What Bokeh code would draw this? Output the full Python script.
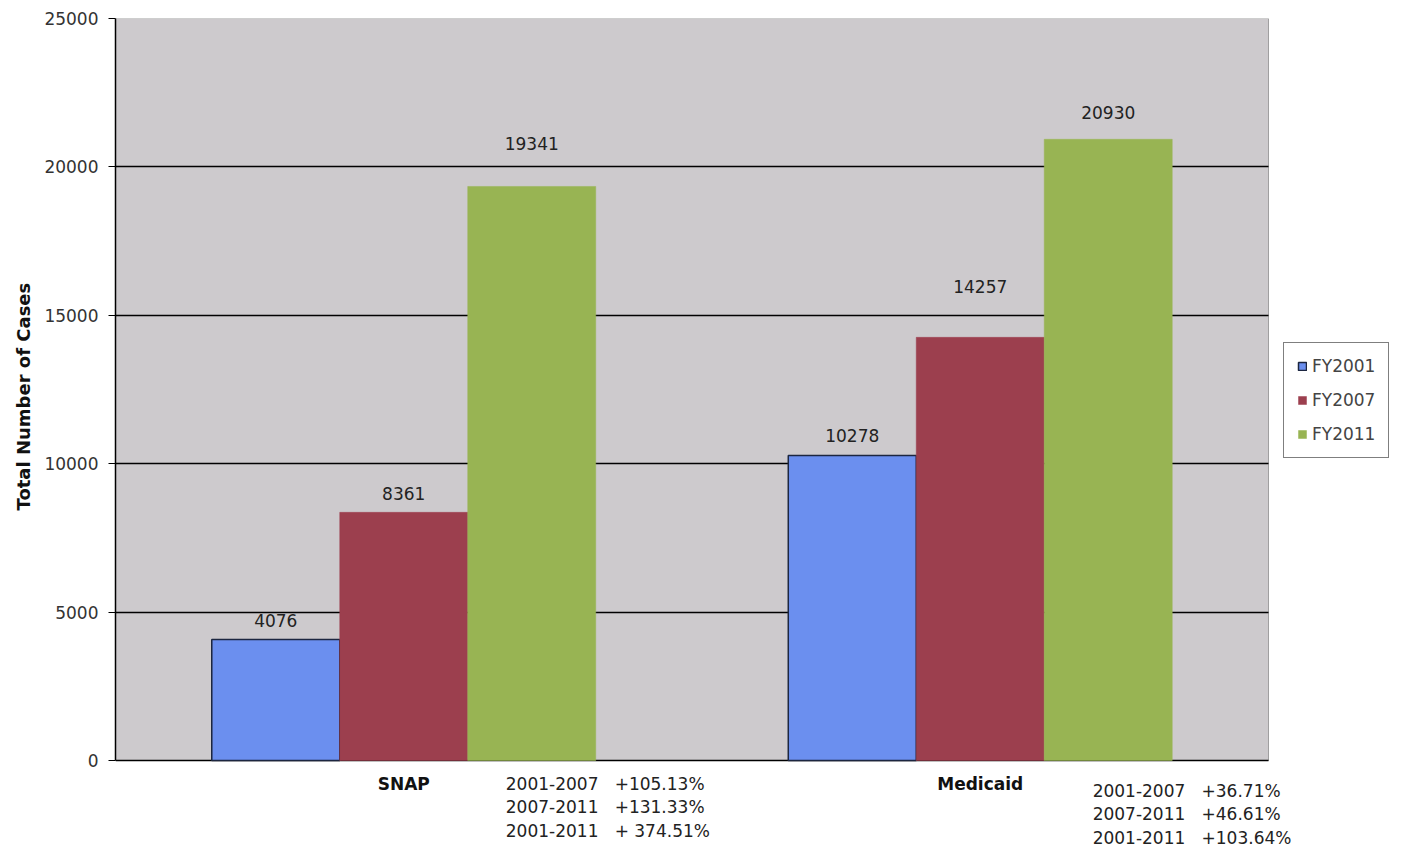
from bokeh.plotting import figure
from bokeh.models import (ColumnDataSource, Range1d, FixedTicker, Legend, LegendItem,
                          LabelSet, BoxAnnotation, Title)
from bokeh.core.properties import value
from bokeh.embed import file_html
from bokeh.resources import INLINE

# ---- data ----
categories = ["SNAP", "Medicaid"]
series_names = ["FY2001", "FY2007", "FY2011"]
fy2001 = [4076, 10278]
fy2007 = [8361, 14257]
fy2011 = [19341, 20930]
y_ticks = [0, 5000, 10000, 15000, 20000, 25000]
snap_notes = ["2001-2007\u00a0\u00a0\u00a0+105.13%", "2007-2011\u00a0\u00a0\u00a0+131.33%",
              "2001-2011\u00a0\u00a0\u00a0+ 374.51%"]
medicaid_notes = ["2001-2007\u00a0\u00a0\u00a0+36.71%", "2007-2011\u00a0\u00a0\u00a0+46.61%",
                  "2001-2011\u00a0\u00a0\u00a0+103.64%"]

# ---- layout / style ----
Y_MAX = 25000
PX_LEFT, PX_RIGHT, PX_WIDTH = 115, 1268, 1403
PX_TOP, PX_ZERO, PX_BOTTOM = 18, 760, 849
n_cat = len(categories)
y_min = -Y_MAX * (PX_BOTTOM - PX_ZERO) / (PX_ZERO - PX_TOP)
x_max = n_cat * (PX_WIDTH - PX_LEFT) / (PX_RIGHT - PX_LEFT)
colors = ["#6b8fef", "#9c3f4e", "#98b453"]
outlines = ["#1c2640", None, None]
label_pad = [[19, 20], [19, 51], [43, 27]]  # px above bar top for value labels
FONT = "DejaVu Sans"
bar_w = 0.222
note_left = [0.677, 1.695]          # left edge of note blocks, category units
note_first_dy = [-23, -30]          # px below the zero line
note_line_gap = 23.5
TITLE_BOTTOM_PX = 510               # lower end of the rotated y-axis title

p = figure(frame_width=PX_WIDTH - PX_LEFT, frame_height=PX_BOTTOM - PX_TOP,
           output_backend="svg", toolbar_location=None, x_axis_location=None,
           x_range=Range1d(0, x_max), y_range=Range1d(y_min, Y_MAX),
           min_border_left=PX_LEFT, min_border_right=0, min_border_top=PX_TOP,
           min_border_bottom=0)
p.background_fill_color = "white"
p.border_fill_color = "white"
p.outline_line_color = None

# plot area (grey box with border)
p.add_layout(BoxAnnotation(left=0, right=n_cat, bottom=0, top=Y_MAX, fill_color="#cdcacd",
                           fill_alpha=1, line_color="black", line_width=1, level="image"))

# horizontal gridlines limited to the plot area
p.xgrid.visible = False
p.ygrid.ticker = FixedTicker(ticks=y_ticks)
p.ygrid.grid_line_color = "black"
p.ygrid.grid_line_width = 1.5
try:
    p.ygrid.cross_bounds = (0, n_cat)
except Exception:
    p.ygrid.visible = False
    p.segment(x0=[0] * len(y_ticks), x1=[n_cat] * len(y_ticks), y0=y_ticks, y1=y_ticks,
              line_color="black", line_width=1.5)

renderers = []
all_series = [fy2001, fy2007, fy2011]
for i, (name, vals) in enumerate(zip(series_names, all_series)):
    xs = [k + 0.5 + (i - 1) * bar_w for k in range(n_cat)]
    src = ColumnDataSource(dict(x=xs, top=vals, lab=[str(v) for v in vals],
                                off=label_pad[i]))
    r = p.vbar(x="x", top="top", width=bar_w, source=src, fill_color=colors[i],
               line_color=outlines[i] if outlines[i] else colors[i],
               line_width=1.5 if outlines[i] else 0.5)
    renderers.append(r)
    p.add_layout(LabelSet(x="x", y="top", text="lab", source=src, y_offset="off",
                          text_align="center", text_baseline="middle",
                          text_font=value(FONT), text_font_size="17px",
                          text_color="#222222"))

# category labels under the zero line
cat_src = ColumnDataSource(dict(x=[k + 0.5 for k in range(n_cat)],
                                y=[0] * n_cat, t=categories))
p.add_layout(LabelSet(x="x", y="y", text="t", source=cat_src, y_offset=-23,
                      text_align="center", text_baseline="middle",
                      text_font=value(FONT), text_font_style="bold",
                      text_font_size="17px", text_color="#111111"))

# growth notes
for notes, nx, dy0 in zip([snap_notes, medicaid_notes], note_left, note_first_dy):
    src = ColumnDataSource(dict(x=[nx] * len(notes), y=[0] * len(notes), t=notes,
                                off=[dy0 - j * note_line_gap for j in range(len(notes))]))
    p.add_layout(LabelSet(x="x", y="y", text="t", source=src, y_offset="off",
                          text_align="left", text_baseline="middle",
                          text_font=value(FONT), text_font_size="17px",
                          text_color="#222222"))

# y axis
p.yaxis.bounds = (0, Y_MAX)
p.yaxis.ticker = FixedTicker(ticks=y_ticks)
p.yaxis.major_label_text_font = FONT
p.yaxis.major_label_text_font_size = "17px"
p.yaxis.major_label_text_color = "#333333"
p.yaxis.major_label_standoff = 10
p.yaxis.major_tick_out = 7
p.yaxis.major_tick_in = 0
p.yaxis.minor_tick_line_color = None
p.yaxis.axis_line_color = "black"
p.yaxis.axis_line_width = 1.5

# y axis title, placed beside the plot area rather than the whole frame
p.add_layout(Title(text="Total Number of Cases", align="left",
                   offset=PX_BOTTOM - TITLE_BOTTOM_PX,
                   text_font=FONT, text_font_style="bold", text_font_size="18px",
                   text_color="#111111", standoff=15), "left")

legend = Legend(items=[LegendItem(label=n, renderers=[r]) for n, r in zip(series_names, renderers)],
                location=(1283 - PX_LEFT, PX_BOTTOM - 458), orientation="vertical")
legend.border_line_color = "black"
legend.border_line_width = 1
legend.background_fill_color = "white"
legend.background_fill_alpha = 1
legend.label_text_font = FONT
legend.label_text_font_size = "17px"
legend.label_text_color = "#444444"
legend.glyph_width = 10
legend.glyph_height = 10
legend.label_height = 20
legend.spacing = 14
legend.padding = 13
legend.margin = 0
legend.label_standoff = 5
p.add_layout(legend, "center")

open("out.html", "w").write(file_html(p, INLINE))
